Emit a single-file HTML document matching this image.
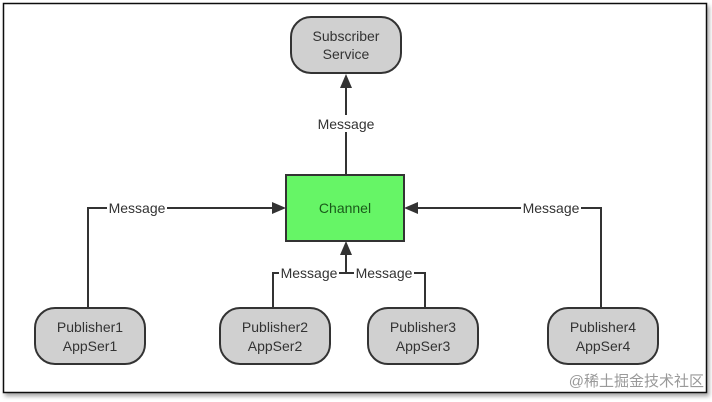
<!DOCTYPE html>
<html><head><meta charset="utf-8"><style>
html,body{margin:0;padding:0;background:#fff;width:712px;height:402px;overflow:hidden}
</style></head><body>
<svg width="712" height="402" viewBox="0 0 712 402" xmlns="http://www.w3.org/2000/svg" font-family="'Liberation Sans', Arial, sans-serif">
<defs>
<filter id="sh" x="-5%" y="-5%" width="110%" height="115%"><feDropShadow dx="2" dy="3" stdDeviation="2" flood-color="#000" flood-opacity="0.35"/></filter>
</defs>
<rect x="3.5" y="3.5" width="703" height="389" fill="#fff" stroke="#111" stroke-width="1.5" filter="url(#sh)"/>
<g stroke="#333" stroke-width="2" fill="none">
<line x1="346" y1="175" x2="346" y2="86"/>
<polyline points="88,308 88,208 274,208"/>
<polyline points="601,308 601,208 416,208"/>
<polyline points="273,308 273,273 346,273 346,253"/>
<polyline points="425,308 425,273 346,273"/>
</g>
<g fill="#333">
<polygon points="346,74 340,88 352,88"/>
<polygon points="286,208 272,202 272,214"/>
<polygon points="404,208 418,202 418,214"/>
<polygon points="346,241 340,255 352,255"/>
</g>
<g font-size="14" fill="#333" text-anchor="middle">
<rect x="315" y="115" width="62" height="17" fill="#fff"/>
<text x="346" y="129">Message</text>
<rect x="107" y="200" width="60" height="17" fill="#fff"/>
<text x="137" y="213">Message</text>
<rect x="521" y="200" width="60" height="17" fill="#fff"/>
<text x="551" y="213">Message</text>
<rect x="279" y="265" width="60" height="17" fill="#fff"/>
<text x="309" y="278">Message</text>
<rect x="354" y="265" width="60" height="17" fill="#fff"/>
<text x="384" y="278">Message</text>
</g>
<g stroke="#333" stroke-width="2" fill="#d0d0d0">
<rect x="291" y="17" width="110" height="56" rx="20"/>
<rect x="35" y="308" width="110" height="56" rx="20"/>
<rect x="220" y="308" width="110" height="56" rx="20"/>
<rect x="368" y="308" width="110" height="56" rx="20"/>
<rect x="548" y="308" width="110" height="56" rx="20"/>
<rect x="286" y="175" width="118" height="66" fill="#66f566"/>
</g>
<g font-size="14" fill="#333" text-anchor="middle">
<text x="346" y="41">Subscriber</text><text x="346" y="59">Service</text>
<text x="90" y="332">Publisher1</text><text x="90" y="351">AppSer1</text>
<text x="275" y="332">Publisher2</text><text x="275" y="351">AppSer2</text>
<text x="423" y="332">Publisher3</text><text x="423" y="351">AppSer3</text>
<text x="603" y="332">Publisher4</text><text x="603" y="351">AppSer4</text>
<text x="345" y="213" fill="#1a5a1a">Channel</text>
</g>
<text x="704" y="386" text-anchor="end" font-size="15" fill="#999" font-family="'Liberation Sans','Noto Sans CJK SC',sans-serif">@稀土掘金技术社区</text>
</svg>
</body></html>
